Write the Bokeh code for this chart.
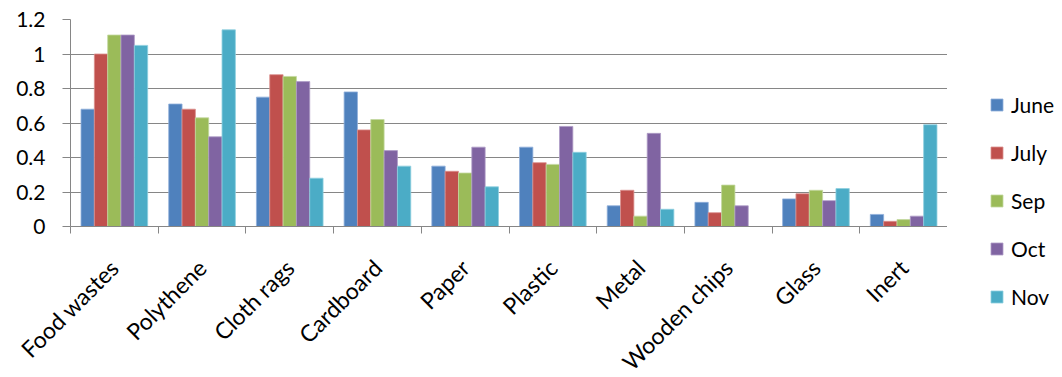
from math import pi

from bokeh.embed import file_html
from bokeh.layouts import column, row
from bokeh.models import (ColumnDataSource, CustomJSTickFormatter, FixedTicker,
                          Legend, LegendItem, Range1d)
from bokeh.plotting import figure
from bokeh.resources import INLINE
from bokeh.transform import dodge

# Waste composition by category, one series per month
categories = ["Food wastes", "Polythene", "Cloth rags", "Cardboard", "Paper",
              "Plastic", "Metal", "Wooden chips", "Glass", "Inert"]
months = ["June", "July", "Sep", "Oct", "Nov"]

june = [0.68, 0.71, 0.75, 0.78, 0.35, 0.46, 0.12, 0.14, 0.16, 0.07]
july = [1.00, 0.68, 0.88, 0.56, 0.32, 0.37, 0.21, 0.08, 0.19, 0.03]
sep = [1.11, 0.63, 0.87, 0.62, 0.31, 0.36, 0.06, 0.24, 0.21, 0.04]
oct_ = [1.11, 0.52, 0.84, 0.44, 0.46, 0.58, 0.54, 0.12, 0.15, 0.06]
nov = [1.05, 1.14, 0.28, 0.35, 0.23, 0.43, 0.10, 0.00, 0.22, 0.59]

y_ticks = [0, 0.2, 0.4, 0.6, 0.8, 1.0, 1.2]

series = [june, july, sep, oct_, nov]
colors = ["#4F81BD", "#C0504D", "#9BBB59", "#8064A2", "#4BACC6"]
edges = ["#8FAEDA", "#DA8F8D", "#C3D89F", "#AE9CC6", "#8ECFE0"]

FONT = "Lato"
GRID = "#868686"

centers = [i + 0.5 for i in range(len(categories))]
data = {"xc": centers}
for m, vals in zip(months, series):
    data[m] = vals
src = ColumnDataSource(data)

bar_w = 0.152

# ---- main chart -----------------------------------------------------------
p = figure(frame_width=877, frame_height=207, output_backend="svg",
           toolbar_location=None, title=None,
           x_range=Range1d(0, len(categories)), y_range=Range1d(0, 1.2),
           min_border_left=70, min_border_right=0, min_border_top=19,
           min_border_bottom=151)
p.outline_line_color = None
p.background_fill_color = None
p.border_fill_color = "white"

for k, (m, c, e) in enumerate(zip(months, colors, edges)):
    p.vbar(x=dodge("xc", (k - 2) * bar_w, range=p.x_range), top=m,
           width=bar_w, source=src, fill_color=c, line_color=e,
           line_width=0.8)

# x axis: names at category centres, tick marks between categories
xt = FixedTicker(ticks=centers, minor_ticks=list(range(len(categories) + 1)))
p.xaxis.ticker = xt
p.xaxis.major_label_overrides = {c: n for c, n in zip(centers, categories)}
p.xaxis.major_label_orientation = pi / 4
p.xaxis.major_tick_out = 0
p.xaxis.major_tick_in = 0
p.xaxis.minor_tick_out = 7
p.xaxis.minor_tick_in = 0
p.xaxis.minor_tick_line_color = GRID
p.xaxis.axis_line_color = GRID
p.xaxis.major_label_text_font = FONT
p.xaxis.major_label_text_font_size = "23px"
p.xaxis.major_label_text_color = "black"
p.xaxis.major_label_standoff = 30

# y axis
p.yaxis.ticker = FixedTicker(ticks=y_ticks)
p.yaxis.formatter = CustomJSTickFormatter(
    code="return String(Math.round(tick * 10) / 10);")
p.yaxis.major_tick_out = 8
p.yaxis.major_tick_in = 0
p.yaxis.minor_tick_line_color = None
p.yaxis.major_tick_line_color = GRID
p.yaxis.axis_line_color = GRID
p.yaxis.major_label_text_font = FONT
p.yaxis.major_label_text_font_size = "21px"
p.yaxis.major_label_text_color = "black"
p.yaxis.major_label_standoff = 17

p.xgrid.grid_line_color = None
p.ygrid.grid_line_color = GRID
p.ygrid.ticker = FixedTicker(ticks=y_ticks)

# ---- legend column --------------------------------------------------------
# The legend sits in the top-left corner of this narrow plot's frame; the
# series are attached here too but lie far outside its ranges.
lg = figure(width=115, height=377, output_backend="svg", toolbar_location=None,
            title=None, x_range=Range1d(100, 101), y_range=Range1d(100, 101),
            x_axis_location=None, y_axis_location=None,
            min_border_left=42, min_border_top=92, min_border_right=0,
            min_border_bottom=0)
lg.outline_line_color = None
lg.grid.grid_line_color = None
lg.border_fill_color = "white"
lg.background_fill_color = None

keys = []
for k, (m, c, e) in enumerate(zip(months, colors, edges)):
    r = lg.vbar(x=dodge("xc", (k - 2) * bar_w), top=m, source=src,
                width=bar_w, fill_color=c, line_color=e, line_width=0.8)
    keys.append(LegendItem(label=m, renderers=[r]))

legend = Legend(
    items=keys, location="top_left", orientation="vertical",
    glyph_width=15, glyph_height=15, label_height=25, spacing=23,
    label_standoff=7, padding=0, margin=0,
    border_line_color=None, background_fill_alpha=0,
    label_text_font=FONT, label_text_font_size="21px", label_text_color="black")
lg.add_layout(legend)

layout = row(p, column(lg, spacing=0), spacing=0)
open("out.html", "w").write(file_html(layout, INLINE))
